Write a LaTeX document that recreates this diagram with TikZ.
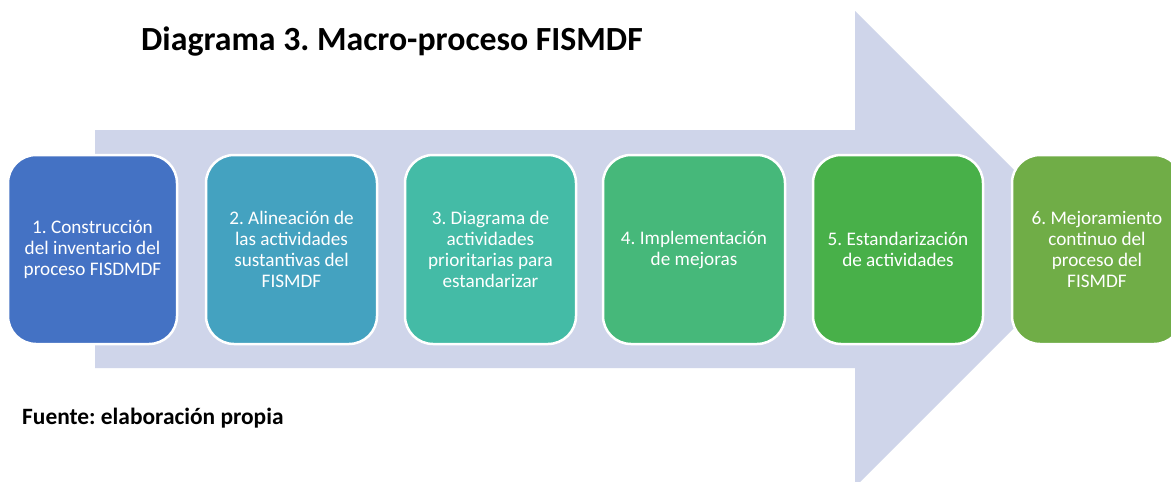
\documentclass[tikz,border=0pt]{standalone}
\usepackage{fontspec}
\setmainfont{Carlito}
\definecolor{arrowc}{HTML}{CFD5EA}
\definecolor{cA}{HTML}{4472C4}
\definecolor{cB}{HTML}{44A2C0}
\definecolor{cC}{HTML}{44BBA6}
\definecolor{cD}{HTML}{46B87A}
\definecolor{cE}{HTML}{48B049}
\definecolor{cF}{HTML}{70AD47}
\tikzset{
  stepbox/.style={draw=white, line width=2.5pt, rounded corners=28pt,
    minimum height=189pt, text=white, align=center, inner sep=0pt,
    font=\fontsize{19.2}{21}\selectfont},
  titletext/.style={font=\fontsize{33.8}{38}\selectfont\bfseries, anchor=base west, inner sep=0pt},
  srctext/.style={font=\fontsize{23.4}{26}\selectfont\bfseries, anchor=base west, inner sep=0pt}
}
\begin{document}
\frenchspacing
\begin{tikzpicture}[x=1pt,y=-1pt]
\useasboundingbox (0,0) rectangle (1171,482);
\clip (0,0) rectangle (1171,482);
\fill[white] (0,0) rectangle (1171,482);
\fill[arrowc] (95,130) -- (855,130) -- (855,11) -- (1093,249) -- (855,487) -- (855,368) -- (95,368) -- cycle;
\node[titletext] (title) at (141,50) {Diagrama 3. Macro-proceso FISMDF};
\node[srctext] (src) at (22,424) {Fuente: elaboración propia};
\node[stepbox, fill=cA, minimum width=169pt] (s1) at (92.5,249.5) {1. Construcción\\del inventario del\\proceso FISDMDF};
\node[stepbox, fill=cB, minimum width=171pt] (s2) at (291.5,249.5) {2. Alineación de\\las actividades\\sustantivas del\\FISMDF};
\node[stepbox, fill=cC, minimum width=171pt] (s3) at (490.5,249.5) {3. Diagrama de\\actividades\\prioritarias para\\estandarizar};
\node[stepbox, fill=cD, minimum width=182pt] (s4) at (694,249.5) {4. Implementación\\de mejoras};
\node[stepbox, fill=cE, minimum width=170pt] (s5) at (898,249.5) {5. Estandarización\\de actividades};
\node[stepbox, fill=cF, minimum width=170pt] (s6) at (1097,249.5) {6. Mejoramiento\\continuo del\\proceso del\\FISMDF};
\end{tikzpicture}
\end{document}
